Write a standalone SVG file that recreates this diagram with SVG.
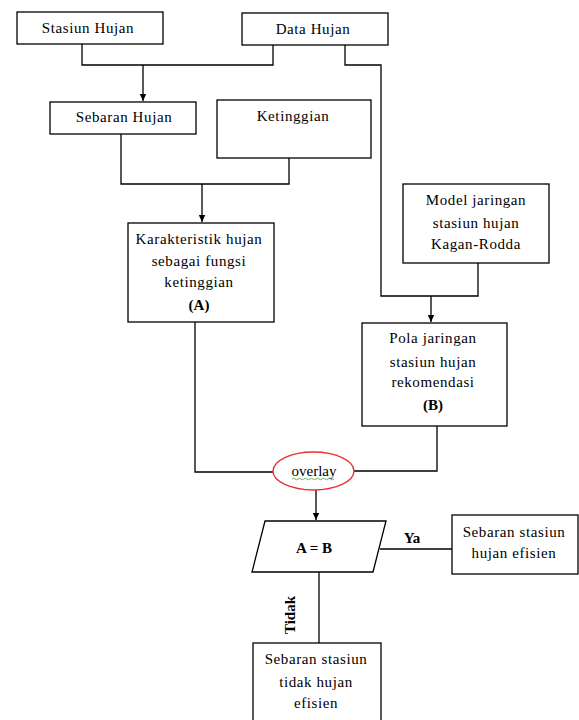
<svg xmlns="http://www.w3.org/2000/svg" width="579" height="720" viewBox="0 0 579 720">
<defs>
<marker id="ah" markerWidth="8" markerHeight="8" refX="7" refY="4" orient="auto" markerUnits="userSpaceOnUse">
<path d="M0,0.8 L7,4 L0,7.2 Z" fill="#000"/>
</marker>
<style>
.box{fill:#fff;stroke:#000;stroke-width:1.3}
.ln{fill:none;stroke:#000;stroke-width:1.3}
.t{font-family:"Liberation Serif","Times New Roman",serif;font-size:15px;fill:#000;text-anchor:middle;letter-spacing:0.6px}
.b{font-weight:bold;letter-spacing:0}
</style>
</defs>
<rect width="579" height="720" fill="#fff"/>
<g id="connectors">
<path class="ln" d="M82,44 V65 H273 V45"/>
<path class="ln" d="M143,65 V101" marker-end="url(#ah)"/>
<path class="ln" d="M345,45 V65 H381 V296 H478 V263"/>
<path class="ln" d="M431,296 V322" marker-end="url(#ah)"/>
<path class="ln" d="M121,134 V184 H289 V158"/>
<path class="ln" d="M202,184 V222" marker-end="url(#ah)"/>
<path class="ln" d="M195,322 V472 H273"/>
<path class="ln" d="M354,471 H437 V426"/>
<path class="ln" d="M316,490 V520" marker-end="url(#ah)"/>
<path class="ln" d="M380,549 H452"/>
<path class="ln" d="M319,572 V643"/>
</g>
<g id="stasiun-hujan"><rect class="box" x="17" y="12" width="146" height="32"/><text class="t" x="88" y="33">Stasiun Hujan</text></g>
<g id="data-hujan"><rect class="box" x="242" y="13" width="146" height="32"/><text class="t" x="313" y="34">Data Hujan</text></g>
<g id="sebaran-hujan"><rect class="box" x="50" y="102" width="146" height="32"/><text class="t" x="124" y="122">Sebaran Hujan</text></g>
<g id="ketinggian"><rect class="box" x="217" y="100" width="154" height="58"/><text class="t" x="293" y="121">Ketinggian</text></g>
<g id="karakteristik"><rect class="box" x="128" y="223" width="146" height="99"/>
<text class="t" x="199" y="244">Karakteristik hujan</text>
<text class="t" x="199" y="266">sebagai fungsi</text>
<text class="t" x="199" y="287">ketinggian</text>
<text class="t b" x="199" y="310">(A)</text></g>
<g id="model"><rect class="box" x="403" y="184" width="146" height="79"/>
<text class="t" x="476" y="205">Model jaringan</text>
<text class="t" x="476" y="228">stasiun hujan</text>
<text class="t" x="476" y="249">Kagan-Rodda</text></g>
<g id="pola"><rect class="box" x="362" y="323" width="145" height="103"/>
<text class="t" x="433" y="343">Pola jaringan</text>
<text class="t" x="433" y="367">stasiun hujan</text>
<text class="t" x="433" y="387">rekomendasi</text>
<text class="t b" x="433" y="410">(B)</text></g>
<g id="overlay"><ellipse cx="313.5" cy="471" rx="40.5" ry="19" fill="#fff" stroke="#e8312f" stroke-width="1.4"/>
<text class="t" x="314" y="476" style="letter-spacing:0">overlay</text>
<path d="M292,479 q1.5,-1.5 3,0 t3,0 t3,0 t3,0 t3,0 t3,0 t3,0 t3,0 t3,0 t3,0 t3,0 t3,0 t3,0 t3,0" fill="none" stroke="#3c9a3c" stroke-width="0.8"/></g>
<g id="decision"><polygon class="box" points="265,521 386,521 373,572 252,572"/>
<text class="t b" x="314" y="553">A = B</text></g>
<g id="ya-label"><text class="t b" x="412" y="543">Ya</text></g>
<g id="efisien"><rect class="box" x="452" y="515" width="126" height="59"/>
<text class="t" x="514" y="537">Sebaran stasiun</text>
<text class="t" x="514" y="558">hujan efisien</text></g>
<g id="tidak-label"><text class="t b" x="0" y="0" transform="translate(295,615) rotate(-90)">Tidak</text></g>
<g id="tidak-efisien"><rect class="box" x="253" y="643" width="128" height="90"/>
<text class="t" x="316" y="664">Sebaran stasiun</text>
<text class="t" x="316" y="687">tidak hujan</text>
<text class="t" x="316" y="708">efisien</text></g>
</svg>
